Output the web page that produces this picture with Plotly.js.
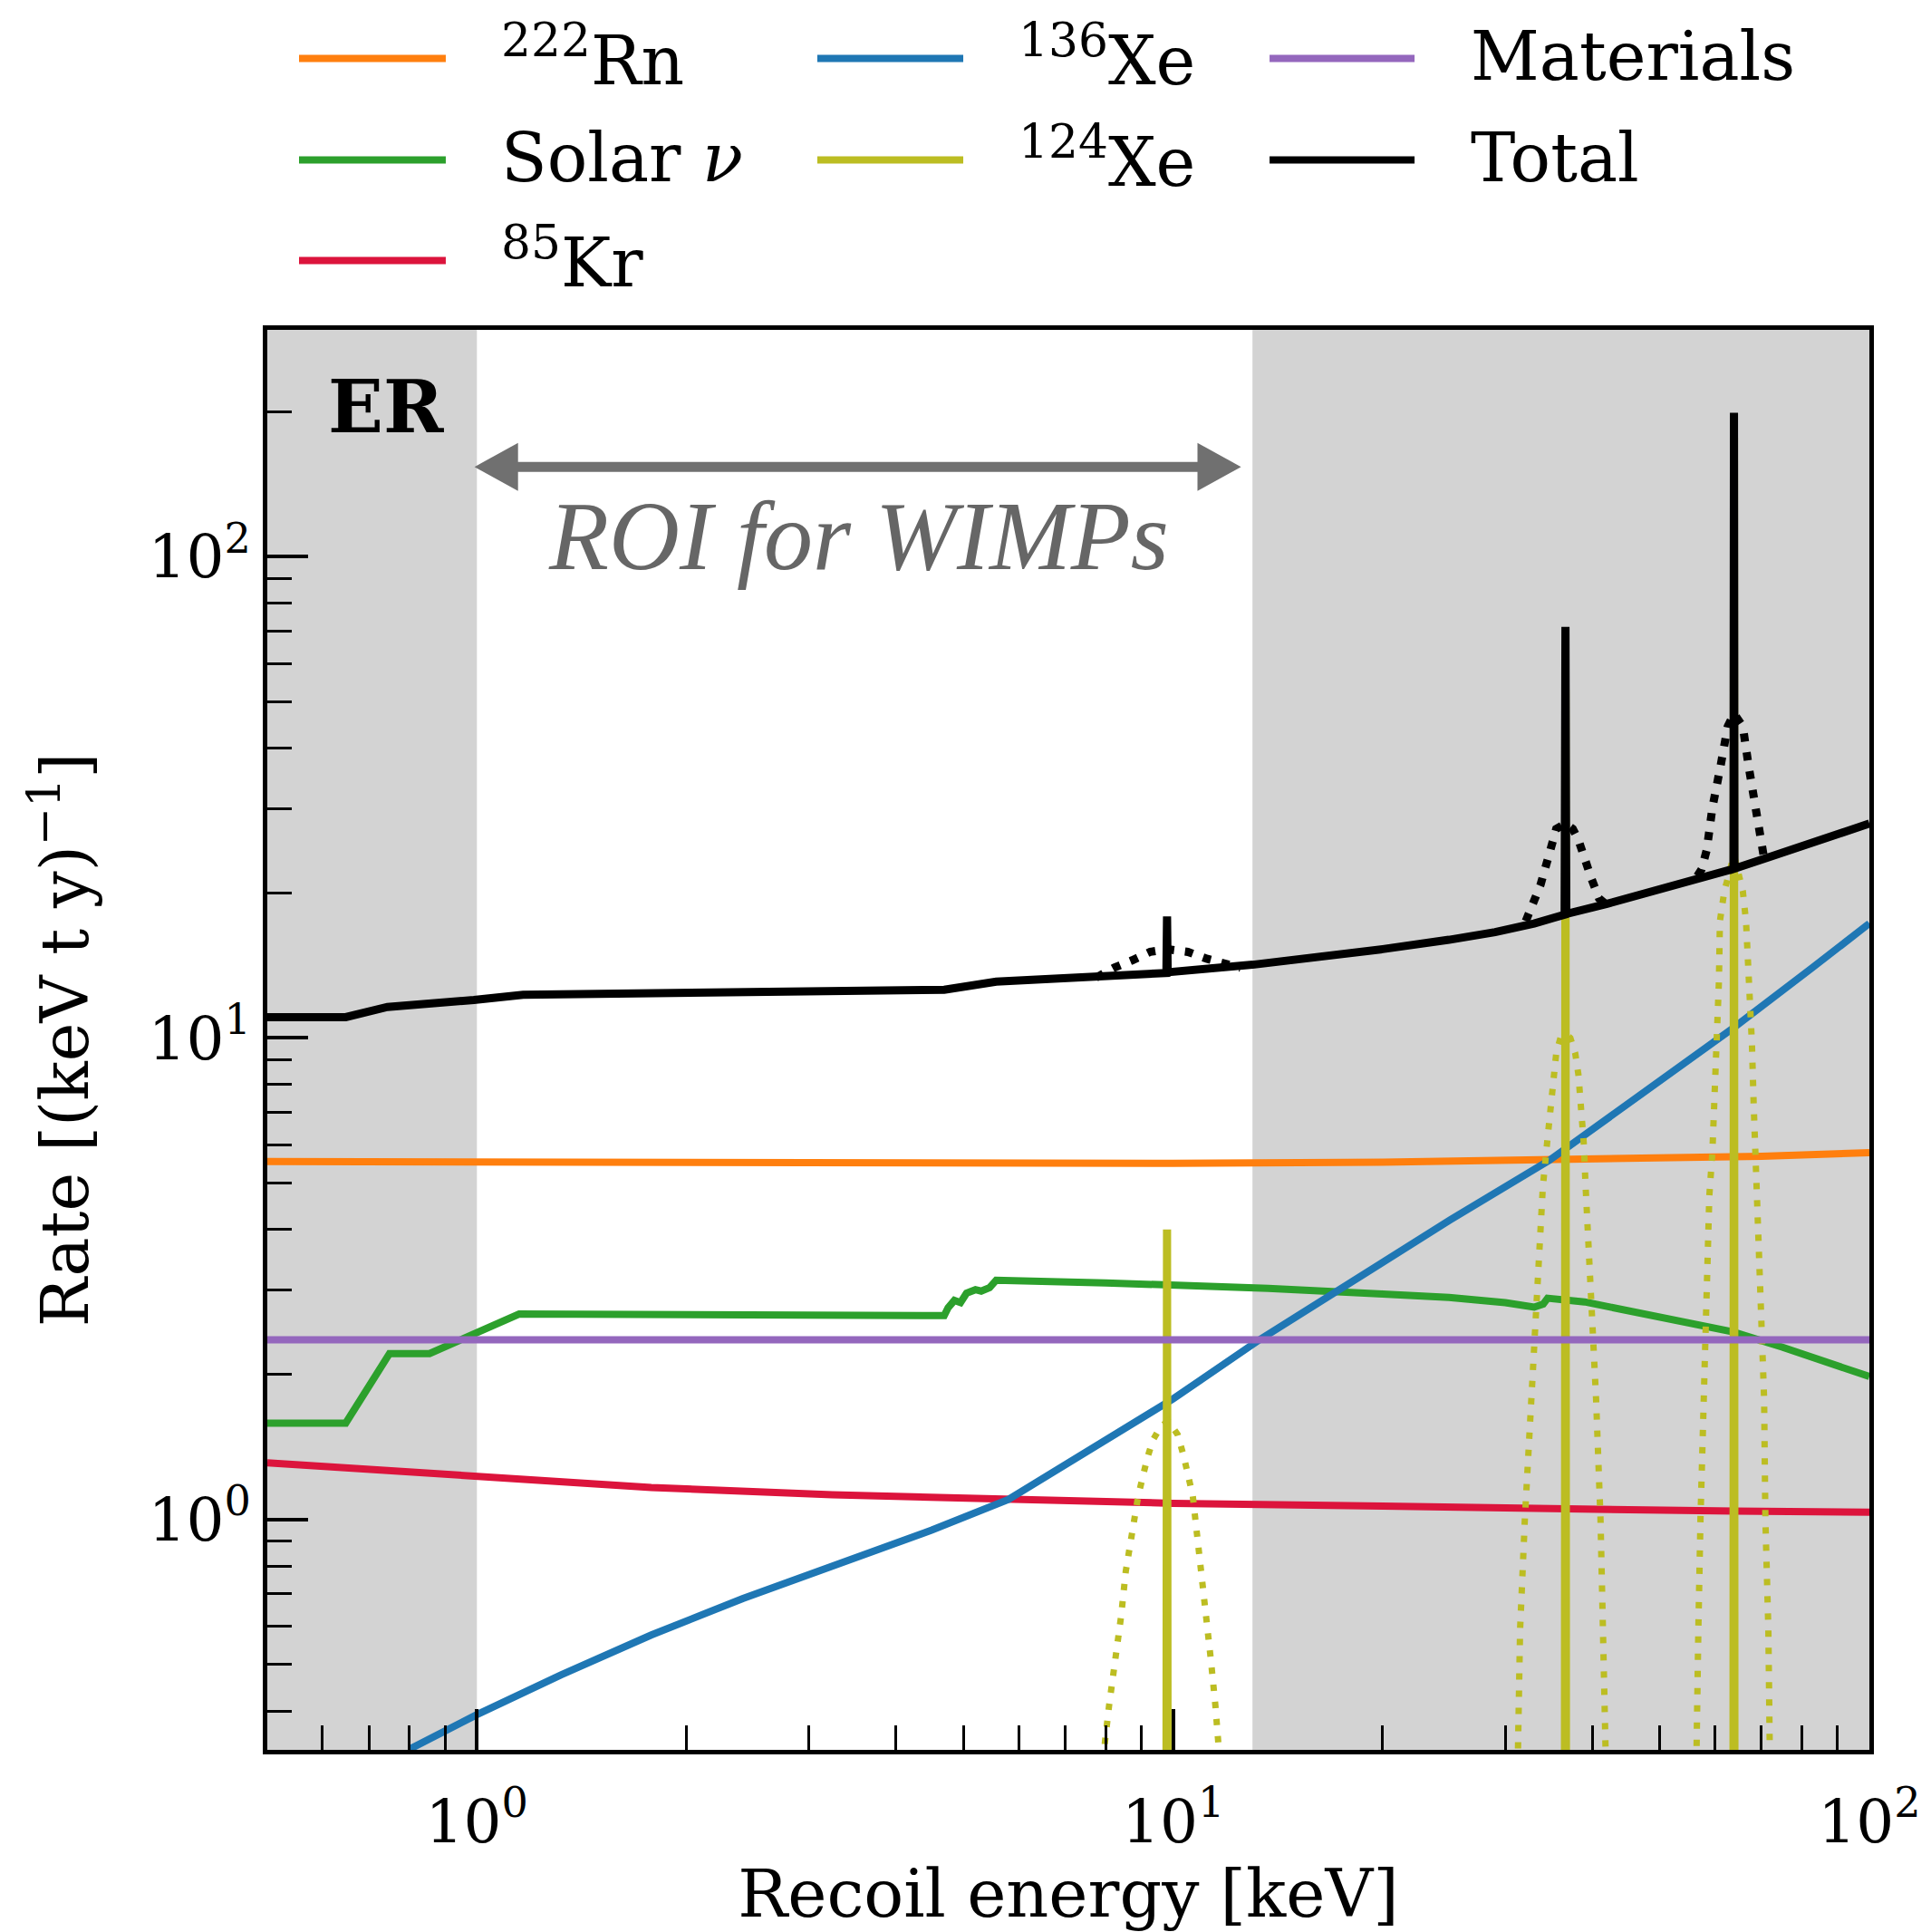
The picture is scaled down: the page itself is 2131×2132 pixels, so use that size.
<!DOCTYPE html>
<html>
<head>
<meta charset="utf-8">
<script src="https://cdn.plot.ly/plotly-3.0.1.min.js"></script>
<style>html,body{margin:0;padding:0;background:#fff;}#chart{width:2131px;height:2132px;}</style>
</head>
<body>
<div id="chart"></div>
<script>
// ---------------- data ----------------
const energyRn = [0.5, 1, 3, 10, 20, 30, 50, 70, 100];
const rateRn   = [5.54, 5.52, 5.5, 5.49, 5.52, 5.56, 5.62, 5.68, 5.78];

const energySolar = [0.5, 0.648, 0.749, 0.855, 1.15, 2, 3, 4.69, 4.75, 4.85, 4.95, 5.05, 5.2, 5.3, 5.45, 5.57, 8, 10, 13.7, 20, 24.9, 30, 33, 34, 34.5, 39, 50.2, 63.8, 74.9, 85, 100];
const rateSolar   = [1.585, 1.585, 2.21, 2.21, 2.67, 2.67, 2.66, 2.65, 2.75, 2.85, 2.82, 2.95, 3.0, 2.98, 3.03, 3.14, 3.1, 3.07, 3.02, 2.94, 2.89, 2.82, 2.76, 2.8, 2.88, 2.83, 2.63, 2.45, 2.28, 2.15, 1.98];

const energyKr = [0.5, 0.725, 1.0, 1.78, 3.24, 5.8, 10, 20, 36, 64, 100];
const rateKr   = [1.31, 1.265, 1.225, 1.165, 1.125, 1.10, 1.08, 1.065, 1.05, 1.04, 1.035];

const energyXe136 = [0.8, 1.0, 1.32, 1.78, 2.41, 3.24, 4.5, 5.8, 8, 10, 13.3, 20, 25, 34.7, 50, 63.8, 82.8, 100];
const rateXe136   = [0.333, 0.393, 0.475, 0.575, 0.685, 0.80, 0.95, 1.10, 1.47, 1.78, 2.36, 3.41, 4.19, 5.57, 8.1, 10.5, 14.0, 17.3];

// 124Xe lines (unsmeared, solid)
const energyXe124 = [9.76, 9.8, 9.84, 36.5, 36.6, 36.7, 63.75, 63.9, 64.05];
const rateXe124   = [0.01, 4.0, 0.01, 0.01, 53, 0.01, 0.01, 177, 0.01];

// 124Xe smeared (dotted)
const energyXe124s = [7.7, 7.98, 8.09, 8.26, 8.42, 8.55, 8.73, 8.91, 9.18, 9.35, 9.6, 9.84, 10.15, 10.36, 10.67, 10.83, 11.0, 11.16, 11.33, 11.5, 11.61, 11.9,
  31.0, 31.3, 31.5, 32.0, 32.7, 33.3, 33.96, 34.5, 34.9, 35.2, 35.5, 36.0, 36.6, 37.2, 37.8, 38.2, 38.5, 38.9, 39.1, 39.9, 40.5, 41.1, 41.5, 41.9, 42.3,
  56.0, 56.4, 56.8, 57.2, 57.8, 58.3, 58.9, 59.5, 59.9, 60.5, 60.8, 61.0, 61.9, 63.9, 65.8, 66.5, 67.2, 67.8, 68.2, 68.5, 69.2, 69.8, 70.6, 70.9, 71.6, 71.9, 72.3];
const rateXe124s   = [0.15, 0.344, 0.41, 0.51, 0.63, 0.78, 0.93, 1.12, 1.34, 1.46, 1.56, 1.6, 1.50, 1.35, 1.12, 0.93, 0.78, 0.63, 0.51, 0.41, 0.344, 0.15,
  0.15, 0.35, 0.59, 1.0, 1.78, 2.8, 4.9, 6.2, 7.3, 8.4, 9.3, 10.0, 10.2, 10.0, 9.3, 8.4, 7.3, 6.0, 5.0, 2.8, 1.78, 1.0, 0.59, 0.35, 0.15,
  0.15, 0.35, 0.59, 1.0, 1.78, 2.8, 4.7, 5.8, 7.5, 9.8, 13.1, 17.5, 20.2, 24.0, 20.2, 17.5, 13.1, 9.8, 7.3, 6.0, 4.7, 2.8, 1.78, 1.0, 0.59, 0.35, 0.15];

const energyMat = [0.5, 100];
const rateMat   = [2.36, 2.36];

// Total (with unsmeared 124Xe lines)
const energyTotal = [0.5, 0.648, 0.744, 0.855, 0.99, 1.165, 2, 2.88, 4.69, 5.57, 8, 9.78, 9.8, 9.82, 13, 16, 20, 24.9, 29, 33, 36.5, 36.6, 36.7, 42, 50, 57, 63.8, 63.9, 64.0, 72, 80, 90, 100];
const rateTotal   = [11.05, 11.05, 11.6, 11.75, 12.0, 12.3, 12.4, 12.46, 12.6, 13.1, 13.4, 13.65, 17.9, 13.7, 14.2, 14.7, 15.3, 16.0, 16.6, 17.3, 18.05, 71.5, 18.1, 19.0, 20.3, 21.4, 22.45, 199, 22.5, 23.8, 25.0, 26.4, 27.9];

// Total with smeared 124Xe (dotted, only where it differs from Total)
const energyTotalS = [7.75, 8.23, 8.73, 9.27, 9.8, 10.5, 11.2, 11.8, 12.5, null,
  32.1, 32.9, 33.7, 34.4, 34.9, 35.5, 36.6, 37.5, 38.2, 38.9, 39.9, 40.9, 41.8, null,
  56.6, 57.4, 58.4, 59.5, 61.1, 62.6, 63.9, 65.8, 67.1, 68.5, 69.8, 70.6];
const rateTotalS   = [13.35, 14.0, 14.5, 15.1, 15.3, 15.1, 14.6, 14.3, 14.0, null,
  17.5, 19.1, 20.8, 23.1, 25.2, 27.2, 27.9, 27.2, 25.8, 23.7, 21.4, 19.5, 19.0, null,
  21.7, 22.4, 24.6, 30.1, 36.6, 44.4, 47.2, 44.4, 36.6, 30.1, 24.8, 23.6];

// shaded regions outside the WIMP ROI (keV)
const shadeRegions = [[0.5, 1.0], [13.0, 100]];

// legend (column-wise, 3 columns)
const legendNames  = ['<sup>222</sup>Rn', 'Solar <i>ν</i>', '<sup>85</sup>Kr', '<sup>136</sup>Xe', '<sup>124</sup>Xe', 'Materials', 'Total'];
const legendColors = ['#ff7f0e', '#2ca02c', '#dc143c', '#1f77b4', '#bcbd22', '#9467bd', '#000000'];

const xTickVals = [1, 10, 100];
const xTickText = ['10<sup>0</sup>', '10<sup>1</sup>', '10<sup>2</sup>'];
const yTickVals = [1, 10, 100];
const yTickText = ['10<sup>0</sup>', '10<sup>1</sup>', '10<sup>2</sup>'];
const xMinor = [0.6, 0.7, 0.8, 0.9, 2, 3, 4, 5, 6, 7, 8, 9, 20, 30, 40, 50, 60, 70, 80, 90];
const yMinor = [0.4, 0.5, 0.6, 0.7, 0.8, 0.9, 2, 3, 4, 5, 6, 7, 8, 9, 20, 30, 40, 50, 60, 70, 80, 90, 200];

// ---------------- figure ----------------
const LW = 8;
const serif = 'DejaVu Serif';
const traces = [
  {x: energyRn, y: rateRn, name: legendNames[0], line: {color: legendColors[0], width: LW}},
  {x: energySolar, y: rateSolar, name: legendNames[1], line: {color: legendColors[1], width: LW}},
  {x: energyKr, y: rateKr, name: legendNames[2], line: {color: legendColors[2], width: LW}},
  {x: energyXe136, y: rateXe136, name: legendNames[3], line: {color: legendColors[3], width: LW}},
  {x: energyXe124, y: rateXe124, name: legendNames[4], line: {color: legendColors[4], width: 9}},
  {x: energyXe124s, y: rateXe124s, name: legendNames[4] + ' (smeared)', line: {color: legendColors[4], width: 7, dash: '7px,12px'}},
  {x: energyMat, y: rateMat, name: legendNames[5], line: {color: legendColors[5], width: LW}},
  {x: energyTotal, y: rateTotal, name: legendNames[6], line: {color: legendColors[6], width: 9}},
  {x: energyTotalS, y: rateTotalS, name: legendNames[6] + ' (smeared)', connectgaps: false, line: {color: legendColors[6], width: 9, dash: '9px,12px'}}
].map(t => Object.assign({type: 'scatter', mode: 'lines', showlegend: false, hoverinfo: 'skip'}, t));

const shapes = [];
shadeRegions.forEach(r => shapes.push({type: 'rect', xref: 'x', yref: 'paper', x0: r[0], x1: r[1], y0: 0, y1: 1,
  fillcolor: '#d3d3d3', line: {width: 0}, layer: 'below'}));

// ROI arrow (paper coords)
const arrowY = 0.9035, tipL = 0.1293, tipR = 0.6078, headLen = 0.0272, headHalf = 0.0169, arrowCol = '#707070';
shapes.push({type: 'line', xref: 'paper', yref: 'paper', x0: tipL + headLen * 0.9, x1: tipR - headLen * 0.9, y0: arrowY, y1: arrowY, line: {color: arrowCol, width: 11}});
shapes.push({type: 'path', xref: 'paper', yref: 'paper', fillcolor: arrowCol, line: {width: 0},
  path: `M${tipL},${arrowY} L${tipL + headLen},${arrowY + headHalf} L${tipL + headLen},${arrowY - headHalf} Z`});
shapes.push({type: 'path', xref: 'paper', yref: 'paper', fillcolor: arrowCol, line: {width: 0},
  path: `M${tipR},${arrowY} L${tipR - headLen},${arrowY + headHalf} L${tipR - headLen},${arrowY - headHalf} Z`});

// manual legend
const legRowsY = [1.1912, 1.1197, 1.0488];
const legCols = [{x0: 0.0198, x1: 0.1114, tx: 0.1448}, {x0: 0.3433, x1: 0.4344, tx: 0.4678}, {x0: 0.6256, x1: 0.7161, tx: 0.750}];
const legendSlots = [[0, 0], [0, 1], [0, 2], [1, 0], [1, 1], [2, 0], [2, 1]]; // [col,row]
const annotations = [];
legendNames.forEach((nm, i) => {
  const c = legCols[legendSlots[i][0]], yy = legRowsY[legendSlots[i][1]];
  shapes.push({type: 'line', xref: 'paper', yref: 'paper', x0: c.x0, x1: c.x1, y0: yy, y1: yy, line: {color: legendColors[i], width: 8}});
  annotations.push({xref: 'paper', yref: 'paper', x: c.tx, y: yy + 0.0015, xanchor: 'left', yanchor: 'middle', showarrow: false,
    text: nm, font: {family: serif, size: 74, color: '#000'}});
});

annotations.push({xref: 'paper', yref: 'paper', x: 0.037, y: 0.946, xanchor: 'left', yanchor: 'middle', showarrow: false,
  text: '<b>ER</b>', font: {family: serif, size: 80, color: '#000'}});
annotations.push({xref: 'paper', yref: 'paper', x: 0.369, y: 0.855, xanchor: 'center', yanchor: 'middle', showarrow: false,
  text: '<i>ROI for WIMPs</i>', font: {family: 'Liberation Serif', size: 108, color: '#666666'}});

const axisCommon = {
  type: 'log', showgrid: false, zeroline: false, showline: true, linecolor: '#000', linewidth: 5, mirror: true,
  ticks: 'inside', ticklen: 45, tickwidth: 4, tickcolor: '#000', tickmode: 'array',
  tickfont: {family: serif, size: 66, color: '#000'},
};

const layout = {
  width: 2131, height: 2132,
  margin: {l: 295, r: 68, t: 364, b: 201},
  paper_bgcolor: '#ffffff', plot_bgcolor: '#ffffff',
  showlegend: false,
  xaxis: Object.assign({}, axisCommon, {
    range: [Math.log10(0.5), 2], tickvals: xTickVals, ticktext: xTickText, ticklabelstandoff: 18,
    minor: {tickmode: 'array', tickvals: xMinor, ticks: 'inside', ticklen: 27, tickwidth: 3, tickcolor: '#000'},
    title: {text: 'Recoil energy [keV]', font: {family: serif, size: 73, color: '#000'}, standoff: 4}
  }),
  yaxis: Object.assign({}, axisCommon, {
    range: [Math.log10(0.332), Math.log10(296)], tickvals: yTickVals, ticktext: yTickText,
    minor: {tickmode: 'array', tickvals: yMinor, ticks: 'inside', ticklen: 27, tickwidth: 3, tickcolor: '#000'},
    title: {text: 'Rate [(keV t y)<sup>−1</sup>]', font: {family: serif, size: 72, color: '#000'}, standoff: 44}
  }),
  shapes: shapes,
  annotations: annotations
};

Plotly.newPlot('chart', traces, layout, {staticPlot: true, displayModeBar: false});
</script>
</body>
</html>
